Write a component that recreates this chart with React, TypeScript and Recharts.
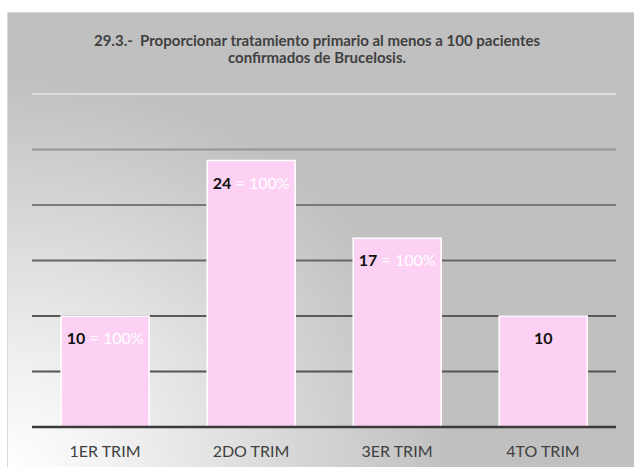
import { BarChart, Bar, XAxis, YAxis, CartesianGrid, LabelList } from "recharts"

const categories = ["1ER TRIM", "2DO TRIM", "3ER TRIM", "4TO TRIM"]
const values = [10, 24, 17, 10]
const percentLabels = ["= 100%", "= 100%", "= 100%", ""]
const yTicks = [0, 5, 10, 15, 20, 25, 30]
const gridValues = [5, 10, 15, 20, 25, 30]

const titleLines = [
    "29.3.-  Proporcionar tratamiento primario al menos a 100 pacientes",
    "confirmados de Brucelosis.",
]

// gridlines fade out towards the top in the original
const gridColors = ["#555555", "#5a5a5a", "#666666", "#7a7a7a", "#959595", "#dedede"]

const data = categories.map((name, i) => ({ name, value: values[i] }))

const FONT = "Lato, 'Open Sans', sans-serif"

const BarLabel = (props: any) => {
    const { x, y, width, value, index } = props
    const pct = percentLabels[index]
    return (
        <text
            x={x + width / 2}
            y={y + 28}
            textAnchor="middle"
            fontFamily={FONT}
            fontSize={16}
            fontWeight="bold"
            style={{ whiteSpace: "pre" }}
        >
            <tspan fill="#111111">{value}</tspan>
            {pct && <tspan fill="#ffffff" fontWeight="normal">{" " + pct}</tspan>}
        </text>
    )
}

const GridLine = (p: any) => (
    <line
        x1={p.x1}
        x2={p.x2}
        y1={p.y1}
        y2={p.y2}
        stroke={gridColors[p.index] ?? "#5a5a5a"}
        strokeWidth={2}
    />
)

export default function App() {
    return (
        <div style={{ position: "absolute", left: 0, top: 0, width: 634, height: 467, background: "#ffffff", overflow: "hidden" }}>
            {/* chart area background */}
            <div
                style={{
                    position: "absolute",
                    left: 7,
                    top: 12,
                    width: 627,
                    height: 455,
                    borderLeft: "1px solid #d9d9d9",
                    borderTop: "1px solid #d9d9d9",
                    background:
                        "radial-gradient(ellipse 440px 390px at 0% 100%, #ffffff 0%, #eeeeee 30%, #c0c0c0 100%)",
                    backgroundColor: "#c0c0c0",
                }}
            />
            <div
                style={{
                    position: "absolute",
                    left: 0,
                    top: 32,
                    width: 634,
                    textAlign: "center",
                    fontFamily: FONT,
                    fontWeight: "bold",
                    fontSize: 15,
                    lineHeight: "17px",
                    color: "#404040",
                }}
            >
                {titleLines.map((t) => (
                    <div key={t} style={{ whiteSpace: "pre" }}>{t}</div>
                ))}
            </div>
            <div style={{ position: "absolute", left: 0, top: 0 }}>
                <BarChart
                    width={634}
                    height={467}
                    data={data}
                    margin={{ top: 94, right: 18, left: 32, bottom: 0 }}
                    barCategoryGap="20%"
                >
                    <CartesianGrid vertical={false} horizontalValues={gridValues} horizontal={GridLine} />
                    <YAxis hide domain={[0, 30]} ticks={yTicks} />
                    <XAxis
                        dataKey="name"
                        height={40}
                        tickLine={false}
                        axisLine={{ stroke: "#3a3a3a", strokeWidth: 2.5 }}
                        tick={{ fill: "#404040", fontFamily: FONT, fontSize: 16 }}
                        tickMargin={13}
                    />
                    <Bar dataKey="value" fill="#fdd1f3" stroke="#ffffff" strokeWidth={1.5} isAnimationActive={false}>
                        <LabelList dataKey="value" content={BarLabel} />
                    </Bar>
                </BarChart>
            </div>
        </div>
    )
}
